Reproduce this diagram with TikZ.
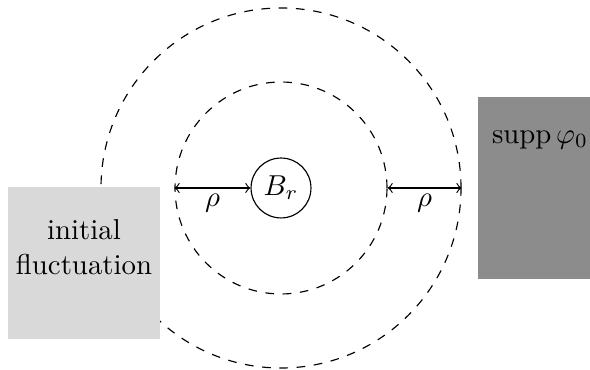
\documentclass[tikz,border=0pt]{standalone}
\usepackage{amsmath}
\begin{document}
\begin{tikzpicture}[x=0.3472pt,y=-0.3472pt,
  ring/.style={draw,dashed,circle,inner sep=0pt},
  region/.style={inner sep=0pt,draw=none},
  gap/.style={<->}
]
\useasboundingbox (0,0) rectangle (590,370);
\node[ring,minimum size=125pt] (outer) at (281,188) {};
\node[ring,minimum size=73.6pt] (inner) at (281,188) {};
\node[draw,circle,minimum size=20.8pt,inner sep=0pt] (Br) at (281,188) {$B_r$};
\node[region,fill=gray!30,minimum width=52.8pt,minimum height=52.8pt] (fluct) at (84,263) {};
\node[align=center,inner sep=0pt] (fluctlabel) at (84,247) {initial\\fluctuation};
\node[region,fill=gray!90,minimum width=38.9pt,minimum height=63.2pt] (supp) at (534,188) {};
\node[inner sep=0pt] (supplabel) at (540,140) {$\operatorname{supp}\varphi_0$};
\draw[gap] (inner.west) -- node[below,inner sep=2pt] {$\rho$} (Br.west);
\draw[gap] (inner.east) -- node[below,inner sep=2pt] {$\rho$} (outer.east);
\end{tikzpicture}
\end{document}
